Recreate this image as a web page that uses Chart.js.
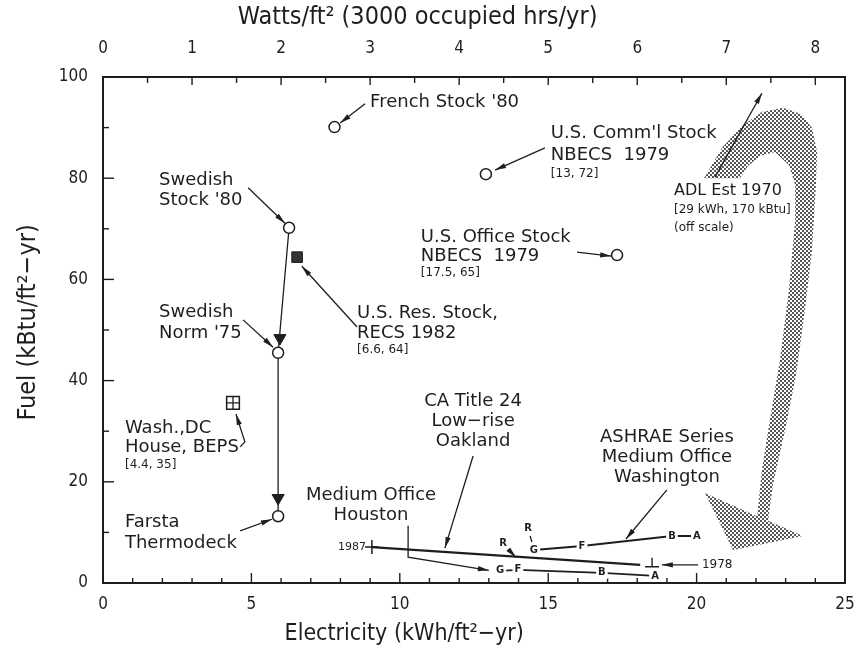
<!DOCTYPE html>
<html>
<head>
<meta charset="utf-8">
<script src="https://cdn.jsdelivr.net/npm/chart.js@4.4.0/dist/chart.umd.min.js"></script>
<style>
  body { margin: 0; background: #fff; }
  #wrap { width: 856px; height: 648px; }
</style>
</head>
<body>
<div id="wrap"><canvas id="chart" width="856" height="648"></canvas></div>
<script>
// axis ticks
var elecTicks = [0, 5, 10, 15, 20, 25];
var fuelTicks = [0, 20, 40, 60, 80, 100];
var wattTicks = [0, 1, 2, 3, 4, 5, 6, 7, 8];
var occupiedHours = 3000;

// open circles: building stocks / single buildings
var circleNames = ["French Stock '80", "U.S. Comm'l Stock", "U.S. Office Stock", "Swedish Stock '80", "Swedish Norm '75", "Farsta Thermodeck"];
var circleElec = [7.8, 12.9, 17.32, 6.27, 5.9, 5.9];
var circleFuel = [90.1, 80.8, 64.8, 70.2, 45.5, 13.2];

// U.S. residential stock (filled square) and Wash. DC house (boxed cross)
var resElec = [6.54];
var resFuel = [64.4];
var bepsElec = [4.38];
var bepsFuel = [35.6];

// swedish path, with arrow heads on the way down
var swedishElec = [6.27, 5.9, 5.9];
var swedishFuel = [70.2, 45.5, 13.2];
var swedishHeadElec = [5.96, 5.9];
var swedishHeadFuel = [48.4, 16.8];

// CA Title 24 low-rise Oakland, 1987 -> 1978
var oaklandElec = [9.06, 18.1];
var oaklandFuel = [7.1, 3.6];
var mark1978 = { x: 18.5, y: 4.0 };

// ASHRAE series, medium office Washington
var washLetters = ["G", "F", "B", "A"];
var washElec = [14.52, 16.14, 19.17, 20.01];
var washFuel = [6.5, 7.3, 9.3, 9.3];

// medium office Houston
var houLetters = ["G", "F", "B", "A"];
var houElec = [13.38, 13.98, 16.81, 18.6];
var houFuel = [2.4, 2.6, 2.0, 1.4];

// ADL Est 1970, off scale (shaded arrow)
var adlElec = [20.25, 20.86, 21.53, 22.20, 22.91, 23.52, 23.89, 24.06, 24.02, 23.89, 23.65, 23.35, 22.98, 22.57, 22.41,
  23.58, 21.23, 20.28, 22.04, 22.20, 22.47, 22.81, 23.11, 23.32, 23.32, 23.11, 22.64, 22.14, 21.73, 21.46];
var adlFuel = [80.0, 86.0, 90.3, 93.1, 93.9, 92.7, 89.9, 85.2, 78.7, 65.8, 54.0, 41.1, 30.2, 19.4, 12.3,
  9.3, 6.5, 17.8, 13.2, 22.3, 32.2, 44.1, 57.9, 71.7, 78.7, 82.6, 85.2, 84.4, 82.4, 80.0];

var ink = "#1e1e1e";
var noteFont = '"DejaVu Sans", sans-serif';
var axisFont = '"Liberation Sans Narrow", "DejaVu Sans Condensed", sans-serif';

// axis titles: text, position along the axis (data units), size
var titleBottom = ["Electricity (kWh/ft\u00b2\u2212yr)", 10.15, 23];
var titleTop = ["Watts/ft\u00b2 (3000 occupied hrs/yr)", 10.6, 25];
var titleLeft = ["Fuel (kBtu/ft\u00b2\u2212yr)", 51.5, 25];

// labels: text, elec, fuel, align, size
var notes = [
  ["French Stock '80", 9.0, 94.9, "left", 18],
  ["U.S. Comm'l Stock", 15.09, 88.9, "left", 18],
  ["NBECS  1979", 15.09, 84.6, "left", 18],
  ["[13, 72]", 15.09, 80.8, "left", 12],
  ["ADL Est 1970", 19.24, 77.5, "left", 16],
  ["[29 kWh, 170 kBtu]", 19.24, 73.7, "left", 12],
  ["(off scale)", 19.24, 70.2, "left", 12],
  ["U.S. Office Stock", 10.71, 68.4, "left", 18],
  ["NBECS  1979", 10.71, 64.6, "left", 18],
  ["[17.5, 65]", 10.71, 61.3, "left", 12],
  ["Swedish", 1.89, 79.6, "left", 18],
  ["Stock '80", 1.89, 75.7, "left", 18],
  ["U.S. Res. Stock,", 8.56, 53.2, "left", 18],
  ["RECS 1982", 8.56, 49.4, "left", 18],
  ["[6.6, 64]", 8.56, 46.0, "left", 12],
  ["Swedish", 1.89, 53.4, "left", 18],
  ["Norm '75", 1.89, 49.4, "left", 18],
  ["Wash.,DC", 0.74, 30.6, "left", 18],
  ["House, BEPS", 0.74, 26.9, "left", 18],
  ["[4.4, 35]", 0.74, 23.3, "left", 12],
  ["Farsta", 0.74, 11.9, "left", 18],
  ["Thermodeck", 0.74, 7.9, "left", 18],
  ["Medium Office", 9.03, 17.4, "center", 18],
  ["Houston", 9.03, 13.4, "center", 18],
  ["CA Title 24", 12.47, 36.0, "center", 18],
  ["Low\u2212rise", 12.47, 32.0, "center", 18],
  ["Oakland", 12.47, 27.9, "center", 18],
  ["ASHRAE Series", 19.0, 28.7, "center", 18],
  ["Medium Office", 19.0, 24.9, "center", 18],
  ["Washington", 19.0, 20.9, "center", 18],
  ["1987", 8.86, 7.1, "right", 11],
  ["1978", 20.18, 3.6, "left", 12]
];

// pointer lines (last point gets the head)
var pointers = [
  [[8.83, 94.7], [7.99, 90.9]],
  [[14.89, 86.0], [13.21, 81.6]],
  [[15.97, 65.4], [17.12, 64.6]],
  [[4.89, 78.1], [6.13, 71.1]],
  [[8.56, 50.6], [6.70, 62.6]],
  [[4.72, 52.0], [5.73, 46.6]],
  [[4.62, 26.9], [4.78, 27.9], [4.48, 33.4]],
  [[4.62, 10.3], [5.69, 12.6]],
  [[10.28, 11.3], [10.28, 5.1], [13.0, 2.5]],
  [[12.47, 25.1], [11.52, 6.9]],
  [[19.0, 18.4], [17.62, 8.7]],
  [[20.05, 3.6], [18.83, 3.6]],
  [[20.62, 80.2], [22.20, 96.8]],
  [[13.65, 6.7], [13.91, 5.1]]
];
var ticksOnly = [[[14.39, 9.3], [14.45, 8.1]]];
var extraLetters = [["R", 13.48, 7.9], ["R", 14.32, 10.7]];

function pts(xs, ys) {
  return xs.map(function (v, i) { return { x: v, y: ys[i] }; });
}

function dotPattern(ctx) {
  var c = document.createElement("canvas");
  c.width = 4; c.height = 4;
  var g = c.getContext("2d");
  g.fillStyle = "#fff";
  g.fillRect(0, 0, 4, 4);
  g.fillStyle = "#555";
  g.fillRect(0, 0, 2, 2);
  g.fillRect(2, 2, 2, 2);
  return ctx.createPattern(c, "repeat");
}

function drawPointer(ctx, x, y, line, head) {
  var p = line.map(function (q) { return [x.getPixelForValue(q[0]), y.getPixelForValue(q[1])]; });
  ctx.beginPath();
  ctx.moveTo(p[0][0], p[0][1]);
  for (var i = 1; i < p.length; i++) ctx.lineTo(p[i][0], p[i][1]);
  ctx.stroke();
  if (!head) return;
  var a = p[p.length - 2], b = p[p.length - 1];
  var ang = Math.atan2(b[1] - a[1], b[0] - a[0]);
  var c = Math.cos(ang), s = Math.sin(ang), L = 11, W = 2.6;
  ctx.beginPath();
  ctx.moveTo(b[0], b[1]);
  ctx.lineTo(b[0] - L * c + W * s, b[1] - L * s - W * c);
  ctx.lineTo(b[0] - L * c - W * s, b[1] - L * s + W * c);
  ctx.closePath();
  ctx.fill();
}

function letter(ctx, x, y, t, ev, fv) {
  var px = x.getPixelForValue(ev), py = y.getPixelForValue(fv);
  ctx.font = "bold 10px " + noteFont;
  var w = ctx.measureText(t).width;
  ctx.fillStyle = "#fff";
  ctx.fillRect(px - w / 2 - 2, py - 6, w + 4, 12);
  ctx.fillStyle = ink;
  ctx.textAlign = "center";
  ctx.fillText(t, px, py);
}

var sketch = {
  id: "sketch",
  beforeDatasetsDraw: function (chart) {
    var ctx = chart.ctx, x = chart.scales.x, y = chart.scales.y;
    ctx.save();
    ctx.fillStyle = dotPattern(ctx);
    ctx.beginPath();
    adlElec.forEach(function (v, i) {
      var px = x.getPixelForValue(v), py = y.getPixelForValue(adlFuel[i]);
      if (i) ctx.lineTo(px, py); else ctx.moveTo(px, py);
    });
    ctx.closePath();
    ctx.fill();
    ctx.restore();
  },
  afterDatasetsDraw: function (chart) {
    var ctx = chart.ctx, x = chart.scales.x, y = chart.scales.y, x2 = chart.scales.x2;
    var a = chart.chartArea;
    ctx.save();
    ctx.strokeStyle = ink;
    ctx.fillStyle = ink;
    ctx.lineWidth = 1.4;

    // inward tick marks
    for (var e = 0; e <= 25; e++) {
      var px = x.getPixelForValue(e);
      ctx.beginPath();
      ctx.moveTo(px, a.bottom);
      ctx.lineTo(px, a.bottom - (e % 5 === 0 ? 10 : 5));
      ctx.stroke();
    }
    for (var f = 0; f <= 100; f += 10) {
      var py = y.getPixelForValue(f);
      ctx.beginPath();
      ctx.moveTo(a.left, py);
      ctx.lineTo(a.left + (f % 20 === 0 ? 11 : 6), py);
      ctx.stroke();
    }
    for (var w = 0; w <= 8; w += 0.5) {
      var wx = x2.getPixelForValue(w);
      ctx.beginPath();
      ctx.moveTo(wx, a.top);
      ctx.lineTo(wx, a.top + (w % 1 === 0 ? 8 : 6));
      ctx.stroke();
    }

    // pointers
    ctx.lineWidth = 1.3;
    pointers.forEach(function (l) { drawPointer(ctx, x, y, l, true); });
    ticksOnly.forEach(function (l) { drawPointer(ctx, x, y, l, false); });

    // 1978 marker
    var mx = x.getPixelForValue(mark1978.x), my = y.getPixelForValue(mark1978.y);
    ctx.lineWidth = 1.4;
    ctx.beginPath();
    ctx.moveTo(mx, my - 5); ctx.lineTo(mx, my + 4);
    ctx.moveTo(mx - 7, my + 4); ctx.lineTo(mx + 7, my + 4);
    ctx.stroke();

    // letters on the series lines
    ctx.textBaseline = "middle";
    washLetters.forEach(function (t, i) { letter(ctx, x, y, t, washElec[i], washFuel[i]); });
    houLetters.forEach(function (t, i) { letter(ctx, x, y, t, houElec[i], houFuel[i]); });
    extraLetters.forEach(function (l) { letter(ctx, x, y, l[0], l[1], l[2]); });

    // notes
    ctx.fillStyle = ink;
    notes.forEach(function (n) {
      ctx.font = n[4] + "px " + noteFont;
      ctx.textAlign = n[3];
      ctx.fillText(n[0], x.getPixelForValue(n[1]), y.getPixelForValue(n[2]));
    });

    // axis titles (set off centre as in the original)
    ctx.textAlign = "center";
    ctx.font = titleBottom[2] + "px " + axisFont;
    ctx.fillText(titleBottom[0], x.getPixelForValue(titleBottom[1]), 634);
    ctx.font = titleTop[2] + "px " + axisFont;
    ctx.fillText(titleTop[0], x.getPixelForValue(titleTop[1]), 17);
    ctx.translate(28, y.getPixelForValue(titleLeft[1]));
    ctx.rotate(-Math.PI / 2);
    ctx.font = titleLeft[2] + "px " + axisFont;
    ctx.fillText(titleLeft[0], 0, 0);
    ctx.restore();
  }
};

var tickFont = { family: axisFont, size: 17 };

function noPad(s) {
  s.paddingLeft = 0; s.paddingRight = 0; s.paddingTop = 0; s.paddingBottom = 0;
}

new Chart(document.getElementById("chart"), {
  type: "scatter",
  data: {
    datasets: [
      { data: pts(circleElec, circleFuel), pointStyle: "circle", pointRadius: 5.5, backgroundColor: "#fff", borderColor: ink, borderWidth: 1.5 },
      { data: pts(resElec, resFuel), pointStyle: "rect", pointRadius: 7.5, backgroundColor: "#333", borderColor: ink, borderWidth: 1 },
      { data: pts(bepsElec, bepsFuel), pointStyle: "cross", pointRadius: 6.3, borderColor: ink, borderWidth: 1.3 },
      { data: pts(bepsElec, bepsFuel), pointStyle: "rect", pointRadius: 9, backgroundColor: "#fff", borderColor: ink, borderWidth: 1.5 },
      { data: pts(swedishHeadElec, swedishHeadFuel), pointStyle: "triangle", rotation: 180, pointRadius: 7, backgroundColor: ink, borderColor: ink },
      { data: pts([oaklandElec[0]], [oaklandFuel[0]]), pointStyle: "cross", pointRadius: 7, borderColor: ink, borderWidth: 1.5 },
      { data: pts(swedishElec, swedishFuel), showLine: true, borderColor: ink, borderWidth: 1.3, pointRadius: 0 },
      { data: pts(oaklandElec, oaklandFuel), showLine: true, borderColor: ink, borderWidth: 2.2, pointRadius: 0 },
      { data: pts(washElec, washFuel), showLine: true, borderColor: ink, borderWidth: 2, pointRadius: 0 },
      { data: pts(houElec, houFuel), showLine: true, borderColor: ink, borderWidth: 1.6, pointRadius: 0 }
    ]
  },
  options: {
    responsive: false,
    animation: false,
    layout: { padding: 0 },
    plugins: { legend: { display: false }, tooltip: { enabled: false } },
    scales: {
      x: {
        type: "linear", position: "bottom", min: 0, max: 25,
        afterBuildTicks: function (s) { s.ticks = elecTicks.map(function (v) { return { value: v }; }); },
        afterFit: function (s) { s.height = 65; noPad(s); },
        grid: { display: false, drawTicks: false },
        border: { display: true, width: 2, color: ink },
        ticks: { padding: 11, color: ink, font: tickFont, maxRotation: 0 }
      },
      x2: {
        type: "linear", position: "top", min: 0, max: 25 / (occupiedHours / 1000),
        afterBuildTicks: function (s) { s.ticks = wattTicks.map(function (v) { return { value: v }; }); },
        afterFit: function (s) { s.height = 77; noPad(s); },
        grid: { display: false, drawTicks: false },
        border: { display: true, width: 2, color: ink },
        ticks: { padding: 18, color: ink, font: tickFont, maxRotation: 0 }
      },
      y: {
        type: "linear", position: "left", min: 0, max: 100,
        afterBuildTicks: function (s) { s.ticks = fuelTicks.map(function (v) { return { value: v }; }); },
        afterFit: function (s) { s.width = 103; noPad(s); },
        grid: { display: false, drawTicks: false },
        border: { display: true, width: 2, color: ink },
        ticks: { padding: 15, color: ink, font: tickFont }
      },
      y2: {
        type: "linear", position: "right", min: 0, max: 100,
        afterFit: function (s) { s.width = 11; noPad(s); },
        grid: { display: false, drawTicks: false },
        border: { display: true, width: 2, color: ink },
        ticks: { display: false }
      }
    }
  },
  plugins: [sketch]
});
</script>
</body>
</html>
